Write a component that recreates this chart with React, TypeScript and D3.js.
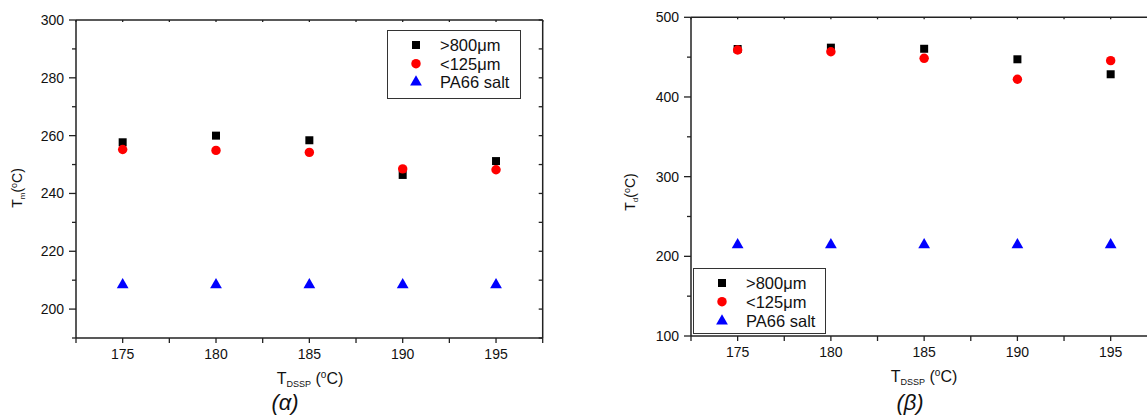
import React from "react";
import * as d3 from "d3";

const tempsDSSP = [175, 180, 185, 190, 195];
const xMajorTicks = [175, 180, 185, 190, 195];
const xMinorTicks = [172.5, 177.5, 182.5, 187.5, 192.5, 197.5];

const tmLarge = [257.7, 260.0, 258.4, 246.4, 251.2];
const tmSmall = [255.2, 254.9, 254.2, 248.5, 248.2];
const tmSalt = [208.4, 208.4, 208.4, 208.4, 208.4];
const tmTicks = [200, 220, 240, 260, 280, 300];
const tmMinor = [190, 210, 230, 250, 270, 290];

const tdLarge = [460.2, 461.9, 460.5, 447.3, 428.5];
const tdSmall = [459.0, 456.8, 448.5, 422.2, 445.6];
const tdSalt = [214.4, 214.4, 214.4, 214.4, 214.4];
const tdTicks = [100, 200, 300, 400, 500];
const tdMinor = [150, 250, 350, 450];

const seriesNames = [">800\u03bcm", "<125\u03bcm", "PA66 salt"];
const seriesColors = ["#000000", "#ff0000", "#0000ff"];
const seriesSymbols = [d3.symbolSquare, d3.symbolCircle, d3.symbolTriangle];
const seriesSizes = [64, 70, 60];

const FONT = "Liberation Sans, Arial, sans-serif";
const AX = "#222";

type PanelProps = {
  x0: number; x1: number; y0: number; y1: number;
  yDomain: [number, number];
  yTicks: number[]; yMinor: number[];
  data: number[][];
  ySub: string; yLabelX: number; yLabelY: number;
  xLabelX: number; xLabelY: number;
  caption: string; captionX: number;
  legend: { x: number; y: number; w: number; h: number; symX: number; textX: number; rows: number[] };
};

function Panel(p: PanelProps) {
  const x = d3.scaleLinear().domain([172.5, 197.5]).range([p.x0, p.x1]);
  const y = d3.scaleLinear().domain(p.yDomain).range([p.y1, p.y0]);
  const allX = [...xMajorTicks, ...xMinorTicks];
  return (
    <g>
      <line x1={p.x0} x2={p.x1} y1={p.y0} y2={p.y0} stroke={AX} strokeWidth={1.5} />
      <line x1={p.x0} x2={p.x1} y1={p.y1} y2={p.y1} stroke={AX} strokeWidth={1.5} />
      <line x1={p.x0} x2={p.x0} y1={p.y0} y2={p.y1} stroke={AX} strokeWidth={1.5} />
      <line x1={p.x1} x2={p.x1} y1={p.y0} y2={p.y1} stroke={AX} strokeWidth={1.5} />
      {allX.map((t) => (
        <g key={"xt" + t}>
          <line x1={x(t)} x2={x(t)} y1={p.y1} y2={p.y1 + 5} stroke={AX} strokeWidth={1.3} />
          <line x1={x(t)} x2={x(t)} y1={p.y0} y2={p.y0 + 2} stroke={AX} strokeWidth={1.3} />
        </g>
      ))}
      {xMajorTicks.map((t) => (
        <text key={"xl" + t} x={x(t)} y={p.y1 + 21} textAnchor="middle" fontSize={14} fontFamily={FONT} fill="#111">{t}</text>
      ))}
      {p.yTicks.map((t) => (
        <g key={"yt" + t}>
          <line x1={p.x0 - 7} x2={p.x0} y1={y(t)} y2={y(t)} stroke={AX} strokeWidth={1.3} />
          <line x1={p.x1 - 4} x2={p.x1} y1={y(t)} y2={y(t)} stroke={AX} strokeWidth={1.3} />
          <text x={p.x0 - 12} y={y(t)} dy="0.36em" textAnchor="end" fontSize={14} fontFamily={FONT} fill="#111">{t}</text>
        </g>
      ))}
      {p.yMinor.map((t) => (
        <g key={"ym" + t}>
          <line x1={p.x0 - 4} x2={p.x0} y1={y(t)} y2={y(t)} stroke={AX} strokeWidth={1.3} />
          <line x1={p.x1 - 4} x2={p.x1} y1={y(t)} y2={y(t)} stroke={AX} strokeWidth={1.3} />
        </g>
      ))}
      {p.data.map((vals, si) =>
        vals.map((v, i) => (
          <path
            key={"d" + si + "-" + i}
            d={d3.symbol().type(seriesSymbols[si]).size(seriesSizes[si])() || ""}
            transform={`translate(${x(tempsDSSP[i])},${y(v)})`}
            fill={seriesColors[si]}
          />
        ))
      )}
      <rect x={p.legend.x} y={p.legend.y} width={p.legend.w} height={p.legend.h} fill="white" stroke="#333" strokeWidth={1} />
      {seriesNames.map((n, si) => (
        <g key={"lg" + si}>
          <path
            d={d3.symbol().type(seriesSymbols[si]).size(seriesSizes[si])() || ""}
            transform={`translate(${p.legend.symX},${p.legend.rows[si]})`}
            fill={seriesColors[si]}
          />
          <text x={p.legend.textX} y={p.legend.rows[si]} dy="0.36em" fontSize={16.5} fontFamily={FONT} fill="#111">{n}</text>
        </g>
      ))}
      <text transform={`translate(${p.yLabelX},${p.yLabelY}) rotate(-90)`} textAnchor="middle" fontSize={14} fontFamily={FONT} fill="#111">
        T<tspan fontSize={8} dy={3}>{p.ySub}</tspan><tspan dy={-3}>(</tspan><tspan fontSize={9} dy={-5}>o</tspan><tspan dy={5}>C)</tspan>
      </text>
      <text x={p.xLabelX} y={p.xLabelY} textAnchor="middle" fontSize={16} fontFamily={FONT} fill="#111">
        T<tspan fontSize={9} dy={3}>DSSP</tspan><tspan dy={-3}> (</tspan><tspan fontSize={10} dy={-6}>o</tspan><tspan dy={6}>C)</tspan>
      </text>
      <text x={p.captionX} y={410} textAnchor="middle" fontSize={22} fontStyle="italic" fontFamily={FONT} fill="#111">{p.caption}</text>
    </g>
  );
}

export default function App() {
  return (
    <svg width={1147} height={416} style={{ position: "absolute", left: 0, top: 0, background: "white" }}>
      <rect x={0} y={0} width={1147} height={416} fill="white" />
      <Panel
        x0={76} x1={542.7} y0={20} y1={338}
        yDomain={[190, 300]} yTicks={tmTicks} yMinor={tmMinor}
        data={[tmLarge, tmSmall, tmSalt]}
        ySub="m" yLabelX={22} yLabelY={188}
        xLabelX={310} xLabelY={384}
        caption="(α)" captionX={285}
        legend={{ x: 387.5, y: 30.5, w: 133, h: 68, symX: 416, textX: 440, rows: [45, 63.7, 82] }}
      />
      <Panel
        x0={691} x1={1157.3} y0={17.3} y1={336}
        yDomain={[100, 500]} yTicks={tdTicks} yMinor={tdMinor}
        data={[tdLarge, tdSmall, tdSalt]}
        ySub="d" yLabelX={635} yLabelY={192}
        xLabelX={924} xLabelY={381.5}
        caption="(β)" captionX={910}
        legend={{ x: 693.5, y: 268.5, w: 132, h: 65, symX: 722, textX: 746, rows: [283, 301.7, 321] }}
      />
    </svg>
  );
}
